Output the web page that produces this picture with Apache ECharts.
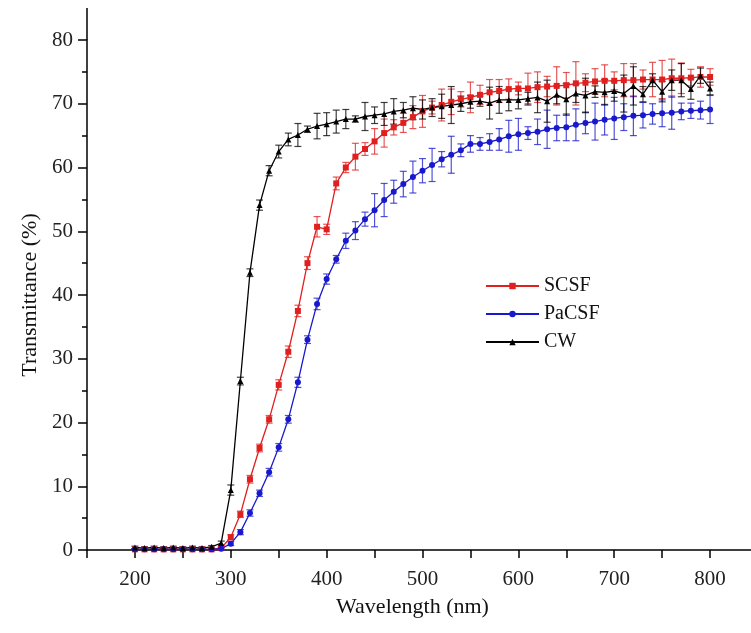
<!DOCTYPE html>
<html>
<head>
<meta charset="utf-8">
<script src="https://cdn.jsdelivr.net/npm/echarts@6/dist/echarts.min.js"></script>
<style>html,body{margin:0;padding:0;background:#fff;}#c{width:751px;height:633px;}</style>
</head>
<body>
<div id="c"></div>
<script>
// Wavelengths (nm)
const wavelengths = [200,210,220,230,240,250,260,270,280,290,300,310,320,330,340,350,360,370,380,390,400,410,420,430,440,450,460,470,480,490,500,510,520,530,540,550,560,570,580,590,600,610,620,630,640,650,660,670,680,690,700,710,720,730,740,750,760,770,780,790,800];

const scsf = [0.1,0.1,0.1,0.1,0.1,0.1,0.1,0.1,0.1,0.3,2.0,5.6,11.1,16.0,20.5,25.9,31.1,37.5,45.0,50.7,50.3,57.5,60.0,61.7,62.9,64.1,65.4,66.3,67.0,67.9,68.8,69.4,69.8,70.3,70.7,71.0,71.4,71.8,72.0,72.3,72.4,72.4,72.6,72.7,72.8,72.9,73.2,73.3,73.5,73.6,73.6,73.7,73.7,73.8,73.8,73.8,74.0,74.0,74.1,74.2,74.2];
const scsfErr = [0.1,0.1,0.1,0.1,0.1,0.1,0.1,0.1,0.1,0.2,0.4,0.5,0.6,0.6,0.6,0.8,0.9,0.9,1.0,1.6,0.8,1.0,0.8,2.1,1.0,2.0,2.2,1.2,1.5,1.8,2.5,1.0,2.5,2.0,1.2,2.4,1.5,2.0,1.8,1.6,1.0,2.4,2.4,1.6,3.0,2.0,3.4,1.4,2.0,2.5,1.4,2.6,2.6,1.5,2.7,3.0,3.0,2.4,1.3,1.6,1.3];

const pacsf = [0.1,0.1,0.1,0.1,0.1,0.1,0.1,0.1,0.1,0.2,1.0,2.8,5.8,8.9,12.2,16.1,20.5,26.3,33.0,38.6,42.5,45.6,48.5,50.1,51.9,53.3,54.9,56.2,57.4,58.5,59.5,60.4,61.3,62.0,62.7,63.7,63.7,64.0,64.4,64.9,65.2,65.4,65.6,66.0,66.2,66.3,66.7,67.0,67.2,67.5,67.7,67.9,68.1,68.2,68.4,68.5,68.6,68.8,68.9,69.0,69.1];
const pacsfErr = [0.1,0.1,0.1,0.1,0.1,0.1,0.1,0.1,0.1,0.2,0.3,0.4,0.5,0.5,0.6,0.6,0.6,0.8,0.6,0.9,0.8,0.6,1.2,1.4,1.1,2.6,2.6,1.8,2.0,2.5,1.9,2.6,1.2,2.9,1.0,1.3,1.0,1.3,1.7,2.5,2.5,1.0,2.0,3.0,2.0,2.1,2.5,1.7,2.9,2.4,3.3,2.1,3.1,2.0,1.6,2.1,2.6,1.3,1.2,1.4,2.2];

const cw = [0.4,0.3,0.4,0.3,0.4,0.3,0.4,0.3,0.5,1.1,9.4,26.5,43.5,54.1,59.5,62.5,64.4,65.1,66.0,66.5,66.8,67.2,67.6,67.6,68.0,68.2,68.4,68.8,69.0,69.3,69.1,69.4,69.6,69.8,70.0,70.3,70.4,70.1,70.6,70.6,70.6,70.8,71.0,70.4,71.4,70.7,71.6,71.3,71.9,71.8,72.0,71.6,72.8,71.5,73.7,71.9,73.7,73.7,72.3,74.4,72.4];
const cwErr = [0.2,0.2,0.2,0.2,0.2,0.2,0.2,0.2,0.2,0.3,0.8,0.6,0.6,0.8,0.8,1.0,1.0,1.8,0.5,2.0,1.8,1.8,1.5,0.5,2.2,1.3,1.8,2.0,1.2,1.8,1.5,1.4,1.9,2.9,1.2,1.0,0.8,2.5,2.1,1.7,1.4,1.0,2.4,3.3,1.4,2.5,1.4,2.7,0.9,2.0,1.6,2.9,3.0,1.2,1.0,1.6,1.6,2.6,1.6,1.2,1.0];

const xTickLabels = [200,300,400,500,600,700,800];
const yTickLabels = [0,10,20,30,40,50,60,70,80];

const FONT = '"Liberation Serif", "Times New Roman", serif';
const colors = {SCSF:'#e01f1f', PaCSF:'#1818cc', CW:'#000000'};

function pairs(ys){ return wavelengths.map((x,i)=>[x, ys[i]]); }
function errData(ys, es){ return wavelengths.map((x,i)=>[x, ys[i]-es[i], ys[i]+es[i]]); }
function errSeries(name, ys, es, color){
  return {
    type:'custom', name: name+' err', data: errData(ys, es), z: 1, silent: true,
    renderItem: function(params, api){
      const x = api.value(0);
      const lo = api.coord([x, api.value(1)]);
      const hi = api.coord([x, api.value(2)]);
      const w = 3.5;
      const style = {stroke: color, lineWidth: 1.2, opacity: 0.75};
      return {type:'group', children:[
        {type:'line', shape:{x1:hi[0], y1:hi[1], x2:lo[0], y2:lo[1]}, style: style},
        {type:'line', shape:{x1:hi[0]-w, y1:hi[1], x2:hi[0]+w, y2:hi[1]}, style: style},
        {type:'line', shape:{x1:lo[0]-w, y1:lo[1], x2:lo[0]+w, y2:lo[1]}, style: style}
      ]};
    }
  };
}
function lineSeries(name, ys, symbol, size){
  return {
    type:'line', name: name, data: pairs(ys), symbol: symbol, symbolSize: size, z: 3,
    showAllSymbol: true,
    lineStyle:{color: colors[name], width: 1.3},
    itemStyle:{color: colors[name]},
    emphasis:{disabled:true}
  };
}

const chart = echarts.init(document.getElementById('c'), null, {renderer:'canvas'});
chart.setOption({
  animation: false,
  backgroundColor: '#ffffff',
  grid: {left: 87, top: 40, width: 671, height: 510, outerBoundsMode: 'none', containLabel: false},
  legend: {
    data: ['SCSF','PaCSF','CW'],
    orient: 'vertical', left: 480, top: 271,
    itemWidth: 53, itemHeight: 8, itemGap: 8,
    textStyle: {fontFamily: FONT, fontSize: 20, color: '#111'}
  },
  xAxis: {
    type: 'value', min: 150, max: 850, interval: 50,
    name: 'Wavelength (nm)', nameLocation: 'middle', nameGap: 46,
    nameTextStyle: {fontFamily: FONT, fontSize: 22, color: '#111', padding: [0, 20, 0, 0]},
    axisLine: {lineStyle: {color: '#000', width: 1.5}},
    axisTick: {show: true, length: 8, lineStyle: {color: '#000', width: 1.5}},
    axisLabel: {
      fontFamily: FONT, fontSize: 21, color: '#222', margin: 19,
      formatter: v => xTickLabels.indexOf(v) >= 0 ? String(v) : ''
    },
    splitLine: {show: false}
  },
  yAxis: {
    type: 'value', min: 0, max: 80, interval: 10,
    name: 'Transmittance (%)', nameLocation: 'middle', nameGap: 46,
    nameTextStyle: {fontFamily: FONT, fontSize: 22, color: '#111'},
    axisLine: {show: true, lineStyle: {color: '#000', width: 1.5},
      symbol: ['none', 'rect'], symbolSize: [1.5, 32], symbolOffset: [0, 16]},
    axisTick: {show: true, length: 9, lineStyle: {color: '#000', width: 1.5}},
    minorTick: {show: true, splitNumber: 2, length: 5, lineStyle: {color: '#000', width: 1.5}},
    axisLabel: {
      fontFamily: FONT, fontSize: 21, color: '#222', margin: 14,
      formatter: v => yTickLabels.indexOf(v) >= 0 ? String(v) : ''
    },
    splitLine: {show: false}
  },
  series: [
    errSeries('SCSF', scsf, scsfErr, colors.SCSF),
    errSeries('PaCSF', pacsf, pacsfErr, colors.PaCSF),
    errSeries('CW', cw, cwErr, colors.CW),
    lineSeries('SCSF', scsf, 'rect', 6),
    lineSeries('PaCSF', pacsf, 'circle', 6),
    lineSeries('CW', cw, 'triangle', 6)
  ]
});
</script>
</body>
</html>
